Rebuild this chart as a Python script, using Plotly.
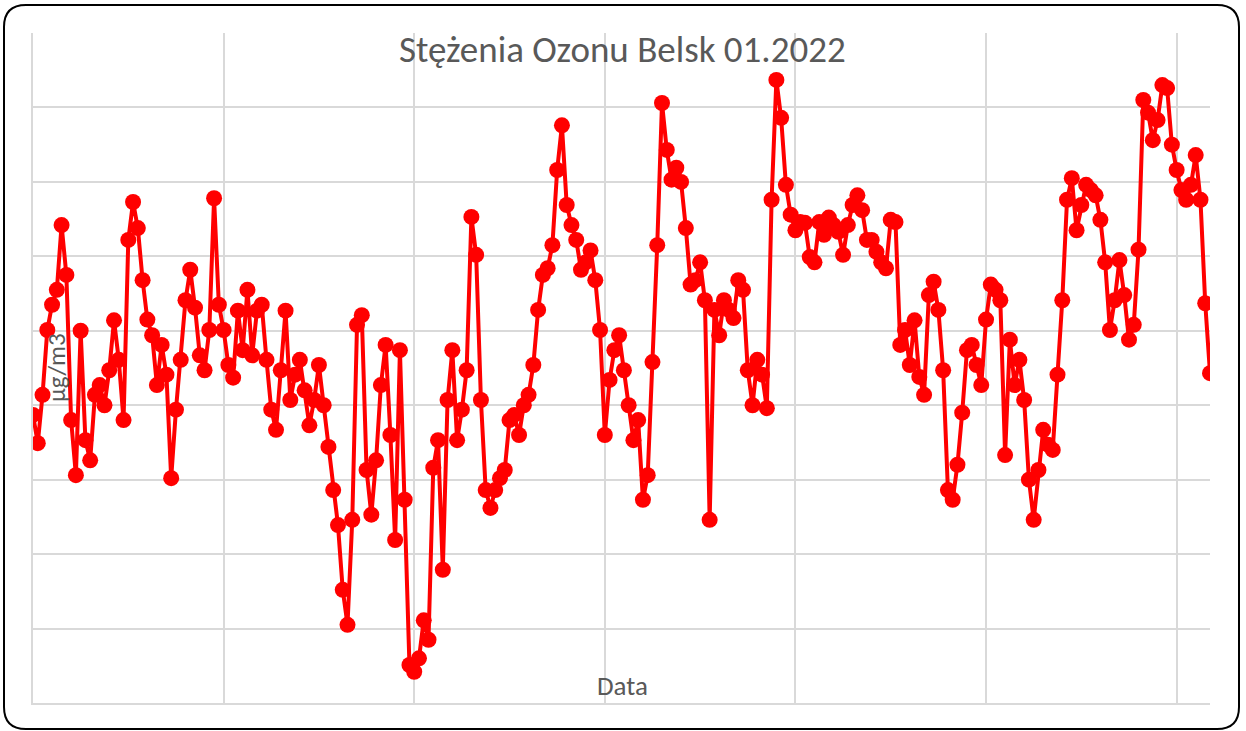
import pandas as pd
import plotly.graph_objects as go

# Ozone concentration, Belsk, January 2022 (3-hourly readings, µg/m3)
start = "2022-01-01 00:00"
step = "3h"
ozone = [
    38.7, 34.9, 41.4, 50.1, 53.5, 55.5, 64.2, 57.5, 38.0, 30.6,
    50.0, 35.3, 32.6, 41.4, 42.7, 40.0, 44.7, 51.4, 46.1, 38.0,
    62.2, 67.3, 63.8, 56.8, 51.5, 49.4, 42.7, 48.1, 44.1, 30.2,
    39.4, 46.1, 54.1, 58.2, 53.1, 46.7, 44.7, 50.1, 67.8, 53.5,
    50.1, 45.4, 43.7, 52.7, 47.4, 55.5, 46.7, 52.7, 53.5, 46.1,
    39.4, 36.7, 44.7, 52.7, 40.7, 44.1, 46.1, 42.0, 37.3, 40.7,
    45.4, 40.0, 34.4, 28.6, 23.9, 15.2, 10.5, 24.6, 50.8, 52.1,
    31.3, 25.3, 32.6, 42.7, 48.1, 36.0, 21.9, 47.4, 27.3, 5.1,
    4.2, 6.0, 11.1, 8.5, 31.6, 35.3, 17.9, 40.7, 47.4, 35.3,
    39.4, 44.7, 65.3, 60.2, 40.7, 28.6, 26.2, 28.6, 30.2, 31.3,
    38.0, 38.7, 36.0, 40.0, 41.4, 45.4, 52.8, 57.5, 58.4, 61.5,
    71.6, 77.6, 66.9, 64.2, 62.2, 58.2, 59.2, 60.8, 56.8, 50.1,
    36.0, 43.4, 47.4, 49.4, 44.7, 40.0, 35.3, 38.0, 27.3, 30.6,
    45.8, 61.5, 80.6, 74.3, 70.3, 71.9, 70.0, 63.8, 56.2, 56.8,
    59.2, 54.1, 24.6, 52.8, 49.4, 54.1, 52.8, 51.7, 56.8, 55.5,
    44.7, 40.0, 46.1, 44.1, 39.6, 67.6, 83.7, 78.6, 69.6, 65.6,
    63.5, 64.6, 64.5, 59.9, 59.2, 64.6, 62.9, 65.2, 64.2, 63.3,
    60.2, 64.2, 66.9, 68.2, 66.2, 62.2, 62.2, 60.6, 59.2, 58.4,
    64.9, 64.6, 48.1, 50.1, 45.4, 51.4, 43.8, 41.4, 54.8, 56.6,
    52.8, 44.7, 28.6, 27.3, 32.0, 39.0, 47.4, 48.1, 45.4, 42.7,
    51.5, 56.2, 55.5, 54.1, 33.3, 48.8, 42.7, 46.1, 40.7, 30.0,
    24.6, 31.3, 36.7, 34.7, 34.0, 44.1, 54.1, 67.6, 70.5, 63.5,
    66.9, 69.6, 68.9, 68.2, 64.9, 59.2, 50.1, 54.1, 59.5, 54.8,
    48.8, 50.8, 60.9, 81.0, 79.3, 75.6, 78.3, 83.0, 82.6, 75.0,
    71.6, 68.9, 67.6, 69.6, 73.6, 67.6, 53.7, 44.3,
]
dates = pd.date_range(start, periods=len(ozone), freq=step)

title_text = "Stężenia Ozonu Belsk 01.2022"
y_title = "µg/m3"
x_title = "Data"

W, H = 1246, 731
L, R, T, B = 33, 1210, 33, 703  # plot area in px
PW, PH = R - L, B - T

def fx(px):
    return (px - L) / PW

def fy(py):
    return (B - py) / PH

fig = go.Figure()
fig.add_trace(go.Scatter(
    x=dates, y=ozone, mode="lines+markers",
    line=dict(color="#FF0000", width=4),
    marker=dict(color="#FF0000", size=16, line=dict(width=0)),
    showlegend=False,
))

# rounded chart border
bl, br, bt, bb, r = 4, 1239, 5, 729, 22
path = (
    f"M {fx(bl + r)},{fy(bt)} L {fx(br - r)},{fy(bt)} "
    f"Q {fx(br)},{fy(bt)} {fx(br)},{fy(bt + r)} "
    f"L {fx(br)},{fy(bb - r)} Q {fx(br)},{fy(bb)} {fx(br - r)},{fy(bb)} "
    f"L {fx(bl + r)},{fy(bb)} Q {fx(bl)},{fy(bb)} {fx(bl)},{fy(bb - r)} "
    f"L {fx(bl)},{fy(bt + r)} Q {fx(bl)},{fy(bt)} {fx(bl + r)},{fy(bt)} Z"
)
fig.add_shape(type="path", path=path, xref="paper", yref="paper",
              line=dict(color="black", width=2), layer="above")

grid = "#D9D9D9"
font_family = "Carlito, Calibri, Noto Sans, sans-serif"
fig.update_layout(
    width=W, height=H,
    margin=dict(l=L, r=W - R, t=T, b=H - B),
    paper_bgcolor="white", plot_bgcolor="white",
    xaxis=dict(type="date", range=[dates[0], dates[-1]],
               tick0="2022-01-01", dtick=5 * 86400000,
               showgrid=True, gridcolor=grid, gridwidth=2,
               showticklabels=False, ticks="", zeroline=False,
               showline=True, linecolor=grid, linewidth=2),
    yaxis=dict(range=[0, 90], dtick=10,
               showgrid=True, gridcolor=grid, gridwidth=2,
               showticklabels=False, ticks="", zeroline=False,
               showline=True, linecolor=grid, linewidth=2),
)
fig.add_annotation(text=title_text, x=fx(622), y=fy(49), xref="paper", yref="paper",
                   showarrow=False, xanchor="center", yanchor="middle",
                   font=dict(family=font_family, size=37, color="#595959"))
fig.add_annotation(text=x_title, x=fx(622), y=fy(685), xref="paper", yref="paper",
                   showarrow=False, xanchor="center", yanchor="middle",
                   font=dict(family=font_family, size=27, color="#595959"))
fig.add_annotation(text=y_title, x=fx(56), y=fy(368), xref="paper", yref="paper",
                   showarrow=False, textangle=-90, xanchor="center", yanchor="middle",
                   font=dict(family=font_family, size=25, color="#595959"))

fig.write_html("out.html", config={"displayModeBar": False},
               post_script="document.body.style.margin='0';document.body.style.overflow='hidden';")
